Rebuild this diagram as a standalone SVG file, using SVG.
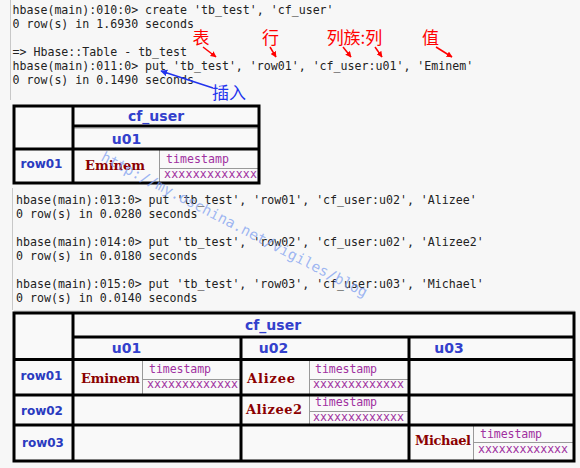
<svg xmlns="http://www.w3.org/2000/svg" width="580" height="468" viewBox="0 0 580 468">
<defs>
<style>
.term{font-family:"DejaVu Sans Mono",monospace;font-size:11.6px;fill:#222}
.hd{font-family:"DejaVu Sans",sans-serif;font-weight:bold;font-size:14px;fill:#3340cc;text-anchor:middle}
.rl{font-family:"DejaVu Sans",sans-serif;font-weight:bold;font-size:12px;fill:#2a3bc0;text-anchor:middle}
.val{font-family:"DejaVu Serif",serif;font-weight:bold;font-size:13px;fill:#8b0000}
.ts{font-family:"DejaVu Sans Mono",monospace;font-size:11.6px;fill:#a030a0}
.red{font-family:"Noto Sans CJK SC",sans-serif;font-size:17px;fill:#ff0000;text-anchor:middle}
.blue{font-family:"Noto Sans CJK SC",sans-serif;font-size:17px;fill:#2233ee;text-anchor:middle}
.thick{stroke:#000;stroke-width:3;fill:none}
.thin{stroke:#999;stroke-width:1;fill:none}
.edge{stroke:#c8c8c8;stroke-width:1;fill:none}
.ra{stroke:#ff0000;stroke-width:1.5;fill:none;marker-end:url(#ah-red)}
.ba{stroke:#2233ee;stroke-width:1.5;fill:none;marker-end:url(#ah-blue)}
</style>
<marker id="ah-red" viewBox="0 0 10 10" refX="9" refY="5" markerWidth="6" markerHeight="6" orient="auto" markerUnits="userSpaceOnUse"><path d="M0,0 L10,5 L0,10 z" fill="#ff0000"/></marker>
<marker id="ah-blue" viewBox="0 0 10 10" refX="9" refY="5" markerWidth="7" markerHeight="7" orient="auto" markerUnits="userSpaceOnUse"><path d="M0,0 L10,5 L0,10 z" fill="#2233ee"/></marker>
</defs>
<rect width="580" height="468" fill="#f7f7f7"/>

<g id="terminal-1">
<line class="edge" x1="10.5" y1="0" x2="10.5" y2="100"/>
<text class="term" x="12.5" y="14">hbase(main):010:0&gt; create 'tb_test', 'cf_user'</text>
<text class="term" x="12.5" y="28">0 row(s) in 1.6930 seconds</text>
<text class="term" x="12.5" y="56">=&gt; Hbase::Table - tb_test</text>
<text class="term" x="12.5" y="70">hbase(main):011:0&gt; put 'tb_test', 'row01', 'cf_user:u01', 'Eminem'</text>
<text class="term" x="12.5" y="84">0 row(s) in 0.1490 seconds</text>
</g>

<g id="annotations">
<text class="red" x="201" y="44">表</text>
<text class="red" x="270.5" y="44">行</text>
<text class="red" x="354.5" y="44">列族:列</text>
<text class="red" x="430.5" y="44">值</text>
<text class="blue" x="229" y="99">插入</text>
</g>

<g id="table-1">
<rect x="14" y="106" width="245" height="77" fill="#f9f9f9"/>
<line class="thin" x1="159.5" y1="150" x2="159.5" y2="182"/>
<line class="thin" x1="160" y1="168.5" x2="258" y2="168.5"/>
<line class="edge" x1="74" y1="128.5" x2="258" y2="128.5"/>
<line class="thick" x1="73" y1="126" x2="259" y2="126"/>
<line class="thick" x1="14" y1="149" x2="259" y2="149"/>
<line class="thick" x1="73" y1="106" x2="73" y2="183"/>
<rect class="thick" x="14" y="106" width="245" height="77"/>
<text class="hd" x="156" y="121">cf_user</text>
<text class="hd" x="126.5" y="143.5">u01</text>
<text class="rl" x="41.5" y="168">row01</text>
<text class="val" x="85" y="170" textLength="60">Eminem</text>
<text class="ts" x="166" y="162.5" textLength="63">timestamp</text>
<text class="ts" x="164" y="177.5" textLength="93">xxxxxxxxxxxxx</text>
</g>

<g id="terminal-2">
<line class="edge" x1="12.5" y1="188" x2="12.5" y2="310"/>
<text class="term" x="16" y="204">hbase(main):013:0&gt; put 'tb_test', 'row01', 'cf_user:u02', 'Alizee'</text>
<text class="term" x="16" y="218">0 row(s) in 0.0280 seconds</text>
<text class="term" x="16" y="246">hbase(main):014:0&gt; put 'tb_test', 'row02', 'cf_user:u02', 'Alizee2'</text>
<text class="term" x="16" y="260">0 row(s) in 0.0180 seconds</text>
<text class="term" x="16" y="288">hbase(main):015:0&gt; put 'tb_test', 'row03', 'cf_user:u03', 'Michael'</text>
<text class="term" x="16" y="302">0 row(s) in 0.0140 seconds</text>
</g>

<g id="table-2">
<line class="edge" x1="14" y1="311" x2="575" y2="311"/>
<rect x="14" y="313" width="560" height="148" fill="#f9f9f9"/>
<line class="thin" x1="142.5" y1="360" x2="142.5" y2="394"/>
<line class="thin" x1="143" y1="379.5" x2="240" y2="379.5"/>
<line class="thin" x1="309.5" y1="360" x2="309.5" y2="424"/>
<line class="thin" x1="310" y1="379.5" x2="408" y2="379.5"/>
<line class="thin" x1="310" y1="411.5" x2="408" y2="411.5"/>
<line class="thin" x1="473.5" y1="426" x2="473.5" y2="460"/>
<line class="thin" x1="474" y1="442.5" x2="573" y2="442.5"/>
<line class="thick" x1="73" y1="337" x2="574" y2="337"/>
<line class="thick" x1="14" y1="359.5" x2="574" y2="359.5"/>
<line class="thick" x1="14" y1="395" x2="574" y2="395"/>
<line class="thick" x1="14" y1="425" x2="574" y2="425"/>
<line class="thick" x1="73" y1="313" x2="73" y2="461"/>
<line class="thick" x1="241" y1="337" x2="241" y2="461"/>
<line class="thick" x1="409" y1="337" x2="409" y2="461"/>
<rect class="thick" x="14" y="313" width="560" height="148"/>
<text class="hd" x="273" y="330">cf_user</text>
<text class="hd" x="126.5" y="353">u01</text>
<text class="hd" x="273.5" y="353">u02</text>
<text class="hd" x="449" y="353">u03</text>
<text class="rl" x="41.5" y="380">row01</text>
<text class="rl" x="42" y="414.5">row02</text>
<text class="rl" x="43" y="446.5">row03</text>
<text class="val" x="81" y="382.5" textLength="59">Eminem</text>
<text class="ts" x="149" y="373" textLength="62">timestamp</text>
<text class="ts" x="147" y="388" textLength="91">xxxxxxxxxxxxx</text>
<text class="val" x="247" y="382.5" textLength="48">Alizee</text>
<text class="ts" x="315" y="373" textLength="62">timestamp</text>
<text class="ts" x="313" y="388" textLength="91">xxxxxxxxxxxxx</text>
<text class="val" x="246" y="414" textLength="56">Alizee2</text>
<text class="ts" x="315" y="405.5" textLength="62">timestamp</text>
<text class="ts" x="313" y="420.5" textLength="91">xxxxxxxxxxxxx</text>
<text class="val" x="415" y="445" textLength="56">Michael</text>
<text class="ts" x="480" y="437.5" textLength="62">timestamp</text>
<text class="ts" x="478" y="452.5" textLength="90">xxxxxxxxxxxxx</text>
</g>

<g id="watermark">
<text x="100" y="160" transform="rotate(27.5 100 160)" font-family="DejaVu Sans Mono, monospace" font-size="14.5" fill="#7f9ff0" fill-opacity="0.75" textLength="298">http://my.oschina.net/vigiles/blog</text>
</g>

<g id="connectors">
<line class="ra" x1="203" y1="47" x2="216" y2="57"/>
<line class="ra" x1="270" y1="47" x2="276" y2="57"/>
<line class="ra" x1="343" y1="47" x2="351" y2="57"/>
<line class="ra" x1="375" y1="47" x2="382" y2="57"/>
<line class="ra" x1="436" y1="47" x2="452" y2="57"/>
<line class="ba" x1="213" y1="88" x2="161" y2="71"/>
</g>
</svg>
